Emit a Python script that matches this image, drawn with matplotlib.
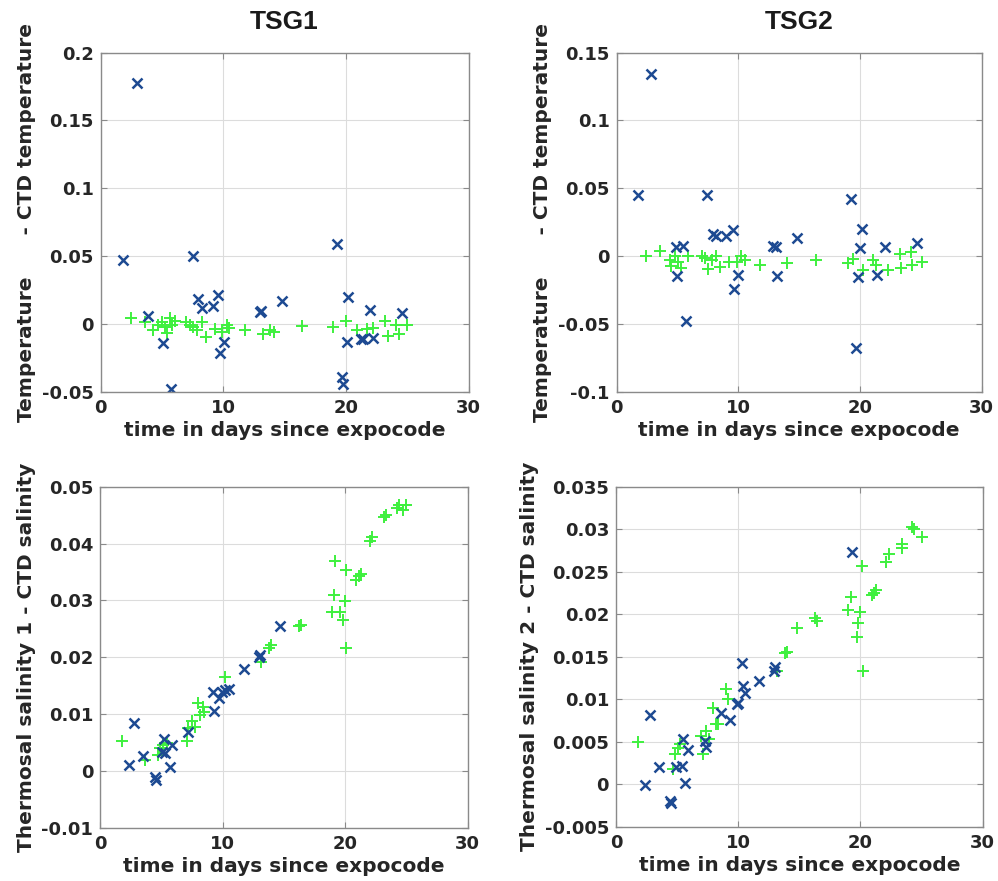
import matplotlib
matplotlib.use("Agg")
import matplotlib.pyplot as plt
from matplotlib.ticker import FuncFormatter, MultipleLocator

# ---------------- data ----------------
# TSG1 temperature difference
t1_temp_bad_x = [2.93, 1.85, 3.83, 5.10, 5.73, 7.55, 7.96, 8.29, 9.13, 9.59, 10.05, 9.73, 12.99,
                 13.10, 14.80, 19.24, 19.67, 19.78, 20.14, 20.05, 21.20, 21.40, 22.00, 22.20, 24.60]
t1_temp_bad_y = [0.178, 0.047, 0.0058, -0.014, -0.048, 0.050, 0.018, 0.0115, 0.0135, 0.0216, -0.013,
                 -0.0216, 0.009, 0.0096, 0.017, 0.059, -0.039, -0.044, 0.020, -0.013, -0.011, -0.011,
                 0.0103, -0.0106, 0.008]
t1_temp_good_x = [2.5, 3.6, 4.3, 4.7, 4.97, 5.24, 5.65, 5.79, 6.06, 5.43, 7.0, 7.3, 7.55, 7.83, 8.24,
                  8.59, 9.32, 9.86, 10.3, 10.5, 11.77, 13.26, 13.8, 14.1, 16.4, 18.97, 20.0, 20.87,
                  21.7, 22.2, 23.2, 23.4, 24.1, 24.3, 25.0]
t1_temp_good_y = [0.0043, 0.0014, -0.0046, -0.0005, 0.0014, -0.002, 0.004, -0.001, 0.002, -0.007,
                  0.0014, -0.0005, -0.002, -0.0046, 0.0014, -0.0094, -0.0034, -0.0058, -0.001, -0.003,
                  -0.0046, -0.0077, -0.0046, -0.006, -0.0014, -0.0026, 0.0019, -0.0046, -0.0034,
                  -0.003, 0.0019, -0.0087, -0.001, -0.0077, -0.0005]

# TSG2 temperature difference
t2_temp_bad_x = [2.79, 1.78, 7.40, 4.88, 5.48, 4.99, 5.67, 7.95, 8.20, 8.99, 9.53, 10.0, 9.64, 12.88,
                 13.07, 13.20, 14.80, 19.30, 20.0, 20.2, 19.7, 19.8, 21.4, 22.05, 24.7]
t2_temp_bad_y = [0.134, 0.045, 0.045, 0.0069, 0.0074, -0.0145, -0.0478, 0.016, 0.0145, 0.0145, 0.0194,
                 -0.0137, -0.0243, 0.0071, 0.0066, -0.0145, 0.0132, 0.042, 0.0059, 0.0203, -0.0676,
                 -0.0154, -0.0137, 0.0066, 0.0096]
t2_temp_good_x = [2.4, 3.6, 4.4, 4.5, 4.8, 5.07, 5.3, 5.9, 7.0, 7.26, 7.53, 7.8, 8.2, 8.5, 9.2, 9.86,
                  10.2, 10.55, 11.8, 13.97, 16.4, 19.04, 19.45, 20.27, 21.1, 21.3, 22.3, 23.3, 23.4,
                  24.2, 24.3, 25.1]
t2_temp_good_y = [0.0, 0.004, -0.0027, -0.0076, 0.0, -0.004, -0.0088, 0.0, 0.0, -0.0015, -0.0096,
                  -0.0027, 0.0, -0.0081, -0.004, -0.004, 0.0, -0.003, -0.0064, -0.005, -0.0027, -0.005,
                  -0.002, -0.0105, -0.0027, -0.0066, -0.01, 0.0017, -0.0088, 0.0027, -0.0064, -0.0047]

# TSG1 salinity difference
s1_bad_x = [2.38, 2.79, 3.52, 4.48, 4.56, 5.22, 5.30, 5.85, 5.66, 5.03, 7.13, 9.20, 9.26, 9.67, 9.95,
            10.2, 10.5, 11.7, 12.95, 13.03, 14.7]
s1_bad_y = [0.00105, 0.0084, 0.0026, -0.001, -0.0016, 0.0056, 0.0031, 0.0045, 0.0006, 0.0034, 0.0069,
            0.0138, 0.0106, 0.0128, 0.0138, 0.0142, 0.0144, 0.018, 0.0201, 0.0204, 0.0254]
s1_good_x = [1.75, 3.66, 4.75, 4.9, 5.1, 5.44, 7.08, 7.2, 7.5, 7.75, 7.95, 8.17, 8.44, 8.4, 10.2, 13.1,
             13.9, 13.8, 16.4, 16.2, 19.1, 18.96, 19.2, 19.6, 19.8, 19.97, 20.1, 20.05, 20.9, 21.15,
             21.3, 22.05, 22.2, 23.2, 23.3, 24.2, 24.4, 24.7, 25.0]
s1_good_y = [0.0053, 0.0019, 0.0028, 0.004, 0.0046, 0.0049, 0.0052, 0.0075, 0.0087, 0.0078, 0.0119,
             0.0098, 0.0104, 0.0113, 0.0166, 0.0192, 0.0221, 0.0216, 0.0257, 0.0254, 0.0309, 0.028,
             0.0369, 0.028, 0.0265, 0.0298, 0.0217, 0.0353, 0.0336, 0.0342, 0.0347, 0.0404, 0.0412,
             0.0447, 0.0451, 0.0462, 0.0467, 0.0459, 0.0467]

# TSG2 salinity difference
s2_bad_x = [2.38, 2.79, 3.56, 4.38, 4.5, 4.93, 5.4, 5.48, 5.9, 5.67, 7.26, 7.34, 8.58, 9.3, 9.86, 10.0,
            10.27, 10.4, 10.55, 11.7, 13.0, 12.93, 19.3]
s2_bad_y = [-0.0001, 0.0081, 0.002, -0.002, -0.0022, 0.002, 0.0022, 0.0053, 0.004, 0.0001, 0.0051,
            0.0044, 0.0084, 0.0076, 0.0094, 0.0095, 0.0143, 0.0116, 0.0107, 0.0122, 0.0138, 0.0133,
            0.0273]
s2_good_x = [1.78, 4.66, 4.8, 5.07, 5.2, 6.99, 7.12, 7.4, 7.6, 7.95, 8.2, 8.36, 9.0, 9.2, 13.15, 13.84,
             13.97, 14.8, 16.3, 16.44, 18.96, 19.2, 19.73, 19.8, 20.0, 20.1, 20.2, 20.96, 21.1, 21.3,
             22.1, 22.3, 23.4, 23.4, 24.2, 24.4, 25.07]
s2_good_y = [0.005, 0.0018, 0.0035, 0.0043, 0.0047, 0.0057, 0.0035, 0.0063, 0.0053, 0.009, 0.0071,
             0.0071, 0.0112, 0.01, 0.0133, 0.0154, 0.0155, 0.0184, 0.0196, 0.0192, 0.0205, 0.022,
             0.0173, 0.019, 0.0202, 0.0257, 0.0133, 0.0222, 0.0225, 0.0229, 0.0261, 0.0271, 0.0278,
             0.0283, 0.0303, 0.03, 0.0291]

titles = ["TSG1", "TSG2"]
xlabel_text = "time in days since expocode"
ylabels = ["Temperature      - CTD temperature", "Temperature      - CTD temperature",
           "Thermosal salinity 1 - CTD salinity", "Thermosal salinity 2 - CTD salinity"]
ylims = [(-0.05, 0.2), (-0.1, 0.15), (-0.01, 0.05), (-0.005, 0.035)]
ysteps = [0.05, 0.05, 0.01, 0.005]

# ---------------- figure ----------------
fig = plt.figure(figsize=(9.98, 8.81), dpi=100)
positions = [
    [0.1008, 0.5554, 0.3687, 0.3848],
    [0.6178, 0.5554, 0.3659, 0.3848],
    [0.1005, 0.0605, 0.3681, 0.3871],
    [0.6172, 0.0616, 0.3675, 0.3860],
]
data = [
    (t1_temp_good_x, t1_temp_good_y, t1_temp_bad_x, t1_temp_bad_y),
    (t2_temp_good_x, t2_temp_good_y, t2_temp_bad_x, t2_temp_bad_y),
    (s1_good_x, s1_good_y, s1_bad_x, s1_bad_y),
    (s2_good_x, s2_good_y, s2_bad_x, s2_bad_y),
]
green = "#3ef03e"
blue = "#1d4a92"
fmt = FuncFormatter(lambda v, p: f"{v:g}")

for i, pos in enumerate(positions):
    ax = fig.add_axes(pos)
    gx, gy, bx, by = data[i]
    ax.plot(gx, gy, linestyle="none", marker="+", color=green, markersize=8.5, markeredgewidth=1.4)
    ax.plot(bx, by, linestyle="none", marker="x", color=blue, markersize=6.5, markeredgewidth=1.8)
    ax.set_xlim(0, 30)
    ax.set_ylim(*ylims[i])
    ax.xaxis.set_major_locator(MultipleLocator(10))
    ax.yaxis.set_major_locator(MultipleLocator(ysteps[i]))
    ax.yaxis.set_major_formatter(fmt)
    ax.xaxis.set_major_formatter(fmt)
    ax.grid(True, color="#dcdcdc", linewidth=0.8)
    ax.set_axisbelow(True)
    for s in ax.spines.values():
        s.set_color("#8a8a8a")
        s.set_linewidth(1.0)
    ax.tick_params(direction="in", top=True, right=True, length=4, color="#8a8a8a",
                   labelsize=13, labelcolor="#262626", pad=5)
    for lab in ax.get_xticklabels() + ax.get_yticklabels():
        lab.set_fontweight("bold")
    ax.set_xlabel(xlabel_text, fontsize=14.5, fontweight="bold", color="#262626", labelpad=3)
    ax.set_ylabel(ylabels[i], fontsize=14.5, fontweight="bold", color="#262626", labelpad=4)
    if i < 2:
        ax.set_title(titles[i], fontsize=19, fontweight="bold", family="Liberation Sans",
                     color="#1a1a1a", pad=17)

fig.savefig("out.png", dpi=100)
